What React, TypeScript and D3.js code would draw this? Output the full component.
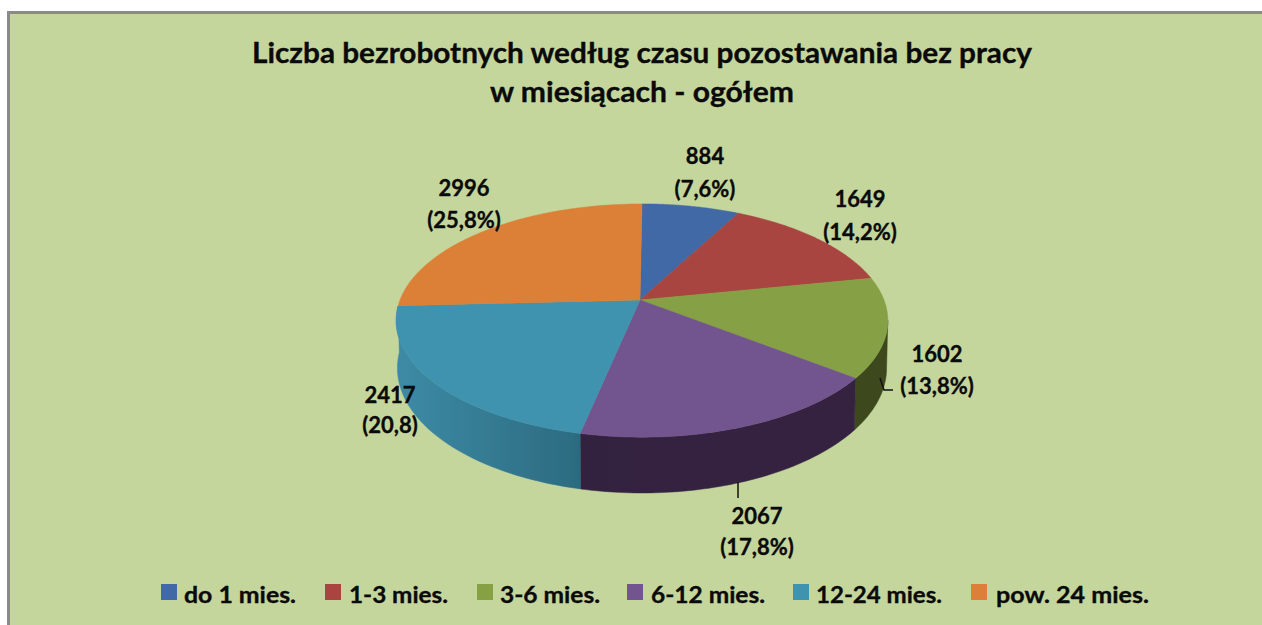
import React from 'react';
import * as d3 from 'd3';

const categories = ['do 1 mies.', '1-3 mies.', '3-6 mies.', '6-12 mies.', '12-24 mies.', 'pow. 24 mies.'];
const values = [884, 1649, 1602, 2067, 2417, 2996];
const colors = ['#4069a6', '#a94441', '#86a144', '#72548f', '#3f93ae', '#dc8039'];
const wallLeft = ['#2c4974', '#762f2d', '#3c4a1e', '#33233f', '#3d8aa5', '#9a5a28'];
const wallRight = ['#2c4974', '#762f2d', '#3c4a1e', '#35243f', '#2c6b80', '#9a5a28'];
const labelLines = [
  ['884', '(7,6%)'],
  ['1649', '(14,2%)'],
  ['1602', '(13,8%)'],
  ['2067', '(17,8%)'],
  ['2417', '(20,8)'],
  ['2996', '(25,8%)'],
];
const labelX = [705, 860, 937, 757, 390, 464];
const labelY = [164, 207, 362, 524, 403, 196];
const labelGap = [33, 33, 32, 31, 30, 32];
const legendSwatchX = [161, 325, 477, 627, 793, 971];
const legendTextX = [184, 349, 500, 651, 816, 996];
const legendTextW = [112, 99, 100, 114, 126, 153];
const titleLines = ['Liczba bezrobotnych według czasu pozostawania bez pracy', 'w miesiącach - ogółem'];
const titleW = [780, 304];
const titleY = [63, 102];

const W = 1262, H = 625;
const cx = 640, cy = 300, rX = 242, rY = 113, k = 0.176, depth = 46, rimShift = 2;
const FONT = 'Lato, Carlito, sans-serif';

const project = (a: number, floor: boolean): [number, number] => {
  const u = Math.sin(a), v = -Math.cos(a);
  const w = 1 / (1 - k * v);
  return floor
    ? [cx + rimShift + rX * 0.995 * u * w, cy + rY * v * w + depth * w]
    : [cx + rimShift + rX * u * w, cy + rY * v * w];
};

export default function App() {
  const arcs = d3.pie<number>().sort(null)(values);
  const line = d3.line();
  const steps = (a0: number, a1: number) => d3.range(0, 61).map(i => a0 + ((a1 - a0) * i) / 60);
  const silhouetteR = (100 * Math.PI) / 180;
  const silhouetteL = (267 * Math.PI) / 180;
  const topPath = (a0: number, a1: number) =>
    line([[cx, cy], ...steps(a0, a1).map(a => project(a, false))])! + 'Z';
  const wallPath = (a0: number, a1: number) => {
    const as = steps(a0, a1);
    return line([...as.map(a => project(a, false)), ...as.slice().reverse().map(a => project(a, true))])! + 'Z';
  };
  return (
    <svg width={W} height={H} style={{ position: 'fixed', left: 0, top: 0, display: 'block' }}>
      <defs>
        {arcs.map((d, i) => {
          const a0 = Math.max(d.startAngle, silhouetteR);
          const a1 = Math.min(d.endAngle, silhouetteL);
          if (a1 <= a0) return null;
          const p0 = project(a1, false)[0], p1 = project(a0, false)[0];
          return (
            <linearGradient key={i} id={`wall${i}`} gradientUnits="userSpaceOnUse" x1={p0} x2={p1} y1={0} y2={0}>
              <stop offset="0" stopColor={wallLeft[i]} />
              <stop offset="1" stopColor={wallRight[i]} />
            </linearGradient>
          );
        })}
        <filter id="soft" x="-5%" y="-5%" width="110%" height="110%">
          <feGaussianBlur stdDeviation="0.6" />
        </filter>
      </defs>
      <rect x={0} y={0} width={W} height={H} fill="#fff" />
      <rect x={8.5} y={12.5} width={1260} height={640} fill="#c5d69c" stroke="#8a8a8a" strokeWidth={3} />
      <g filter="url(#soft)">
        {arcs.map((d, i) => {
          const a0 = Math.max(d.startAngle, silhouetteR);
          const a1 = Math.min(d.endAngle, silhouetteL);
          return a1 > a0 ? <path key={i} d={wallPath(a0, a1)} fill={`url(#wall${i})`} stroke={`url(#wall${i})`} strokeWidth={0.5} /> : null;
        })}
        {arcs.map((d, i) => (
          <path key={i} d={topPath(d.startAngle, d.endAngle)} fill={colors[i]} stroke={colors[i]} strokeWidth={0.5} />
        ))}
      </g>
      <g stroke="#111" strokeWidth={1.5} fill="none">
        <path d={line([[880, 378], [884, 390], [893, 390]] as [number, number][])!} />
        <path d={line([[738, 482], [738, 498]] as [number, number][])!} />
      </g>
      <g fontFamily={FONT} fontWeight={700} fill="#0a0a0a" stroke="#0a0a0a" strokeWidth={0.35} textAnchor="middle">
        {titleLines.map((t, i) => (
          <text key={t} x={642} y={titleY[i]} fontSize={29} textLength={titleW[i]} lengthAdjust="spacingAndGlyphs">{t}</text>
        ))}
        {labelLines.map((ls, i) =>
          ls.map((t, j) => (
            <text key={t} x={labelX[i]} y={labelY[i] + j * labelGap[i]} fontSize={22}>{t}</text>
          ))
        )}
      </g>
      <g fontFamily={FONT} fontWeight={700} fill="#0a0a0a" stroke="#0a0a0a" strokeWidth={0.35}>
        {categories.map((c, i) => (
          <g key={c}>
            <rect x={legendSwatchX[i]} y={584} width={16} height={16} fill={colors[i]} stroke="none" />
            <text x={legendTextX[i]} y={603} fontSize={23} textLength={legendTextW[i]} lengthAdjust="spacingAndGlyphs">{c}</text>
          </g>
        ))}
      </g>
    </svg>
  );
}
